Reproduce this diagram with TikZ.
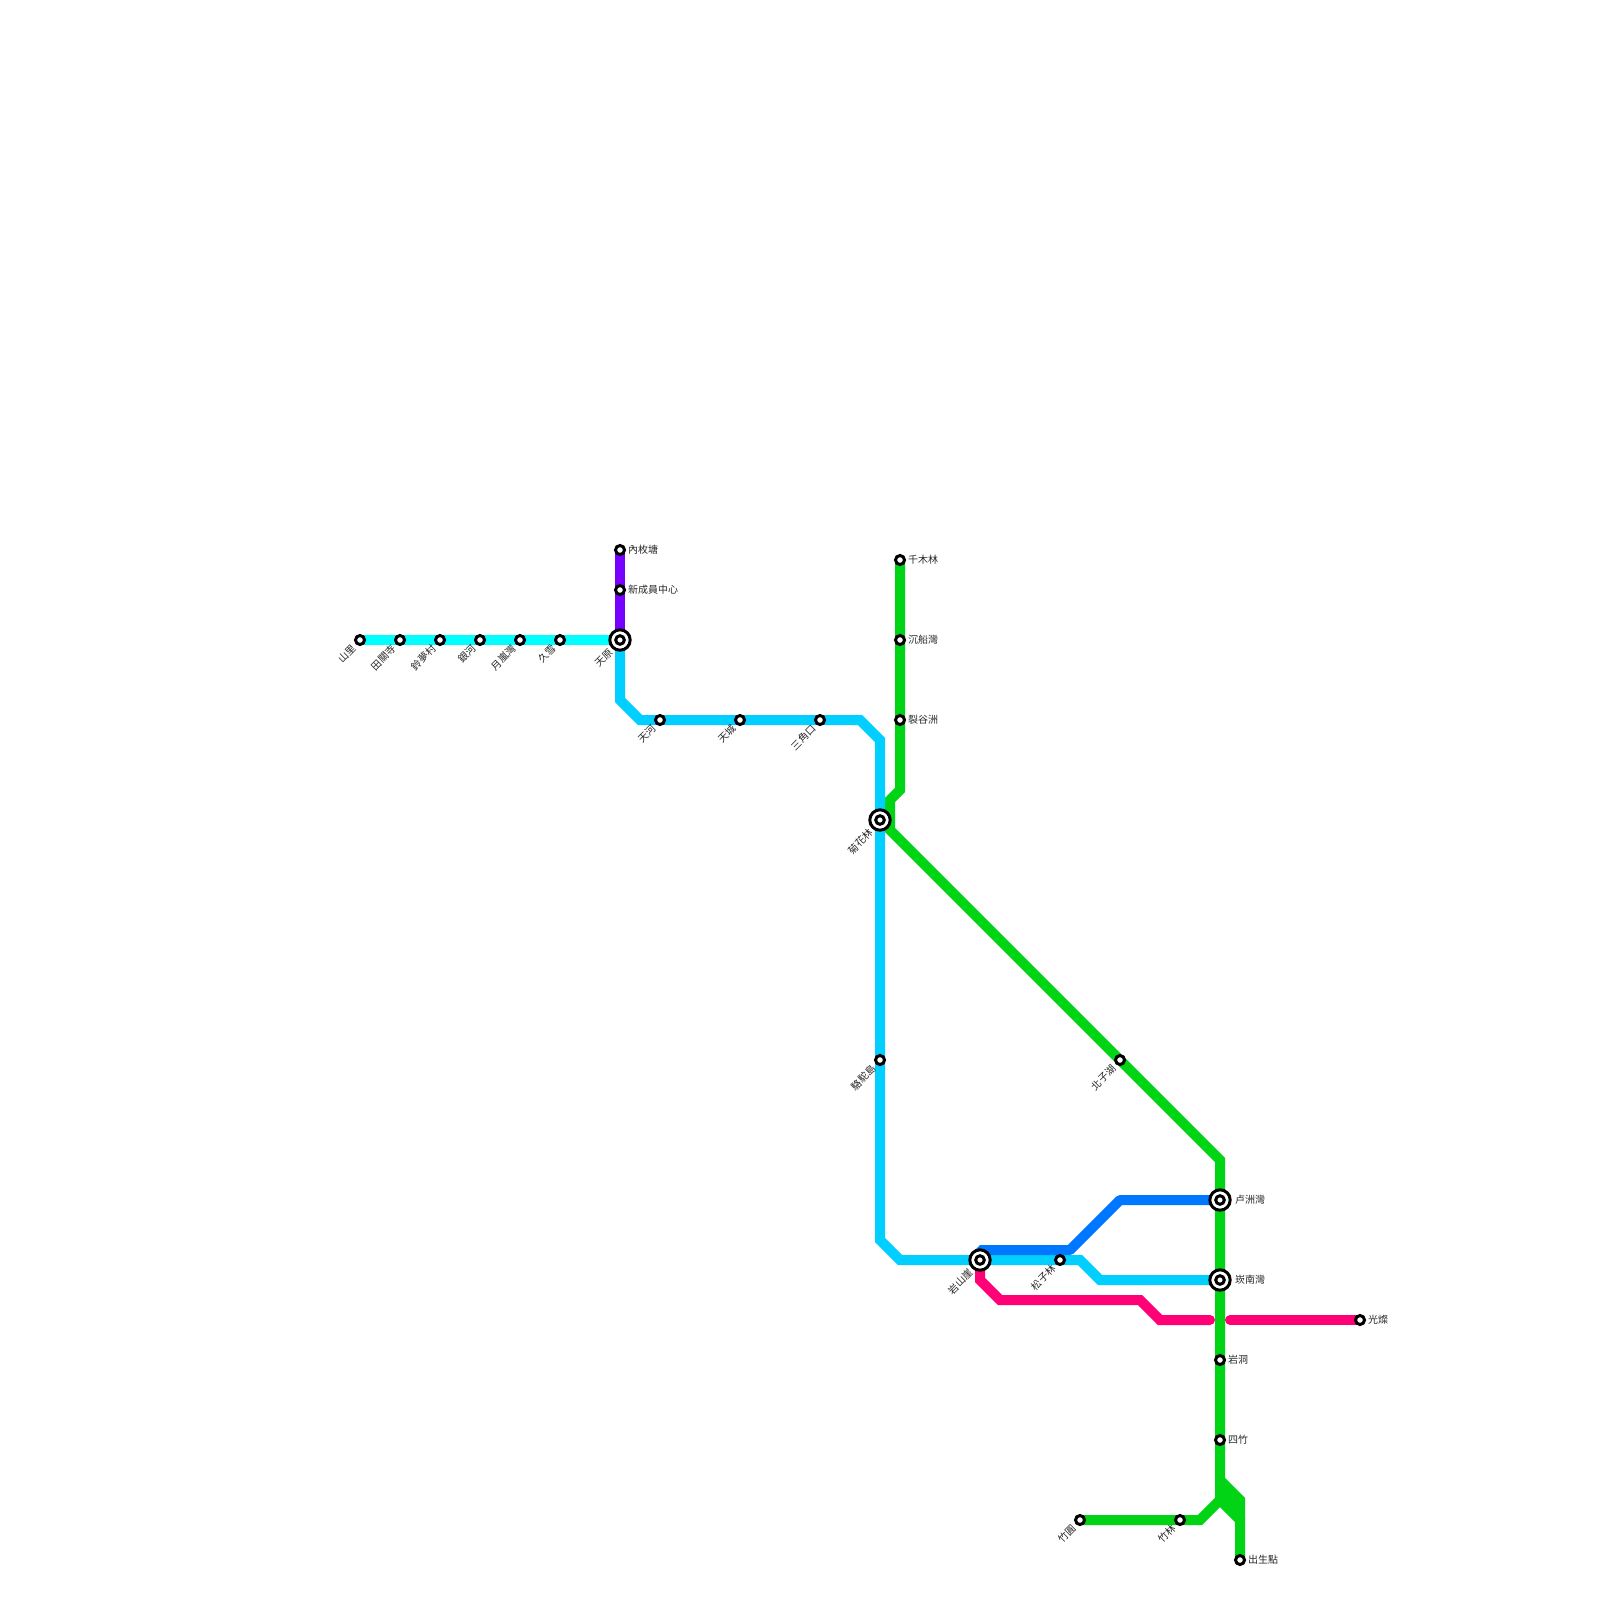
\documentclass[tikz,border=0pt]{standalone}
\usepackage{fontspec}
\newfontfamily\cjk{Noto Sans CJK TC}
\usetikzlibrary{backgrounds}
\definecolor{lineaqua}{HTML}{00FFFF}
\definecolor{linecyan}{HTML}{00CFFF}
\definecolor{linepurple}{HTML}{7700FF}
\definecolor{linegreen}{HTML}{00D414}
\definecolor{lineblue}{HTML}{0077FF}
\definecolor{linepink}{HTML}{FF0077}
\tikzset{
  stanchor/.style={circle,inner sep=0pt,outer sep=0pt,minimum size=1pt},
  ring/.style={draw=black,fill=white,line width=3pt},
  lbl/.style={font=\cjk\fontsize{10}{10}\selectfont,text=black!85,inner sep=0pt},
  rlbl/.style={lbl,anchor=west},
  dlbl/.style={lbl,anchor=east,rotate=45},
  route/.style={line width=10pt,line join=miter,line cap=butt}
}
\newcommand{\stS}[3]{\node[stanchor] (#1) at (#2,#3) {};\draw[ring] (#1.center) circle [radius=4.5pt];}
\newcommand{\stB}[3]{\node[stanchor] (#1) at (#2,#3) {};\draw[ring] (#1.center) circle [radius=10.2pt];\draw[ring] (#1.center) circle [radius=4.3pt];}
\begin{document}
\begin{tikzpicture}[x=1pt,y=-1pt]
\useasboundingbox (0,0) rectangle (1600,1600);
% stations
\stS{shanli}{360}{640}\stS{tianguan}{400}{640}\stS{lingmeng}{440}{640}\stS{yinhe}{480}{640}
\stS{yuelan}{520}{640}\stS{jiuxue}{560}{640}\stB{tianyuan}{620}{640}
\stS{neimei}{620}{550}\stS{xincheng}{620}{590}
\stS{tianhe}{660}{720}\stS{tiancheng}{740}{720}\stS{sanjiao}{820}{720}
\stB{juhua}{880}{820}\stS{luotuo}{880}{1060}\stB{yanshan}{980}{1260}\stS{songzi}{1060}{1260}
\stS{qianmu}{900}{560}\stS{chenchuan}{900}{640}\stS{liegu}{900}{720}\stS{beizi}{1120}{1060}
\stB{luzhou}{1220}{1200}\stB{kannan}{1220}{1280}\stS{yandong}{1220}{1360}\stS{sizhu}{1220}{1440}
\stS{zhuyuan}{1080}{1520}\stS{zhulin}{1180}{1520}\stS{chusheng}{1240}{1560}\stS{guangcan}{1360}{1320}
% bends
\coordinate (c1) at (620,700);\coordinate (c2) at (640,720);\coordinate (c3) at (860,720);
\coordinate (c4) at (880,740);\coordinate (c5) at (880,1240);\coordinate (c6) at (900,1260);
\coordinate (c7) at (1080,1260);\coordinate (c8) at (1100,1280);
\coordinate (g1) at (900,790);\coordinate (g2) at (890,800);\coordinate (g3) at (890,830);
\coordinate (g4) at (1220,1160);\coordinate (g5) at (1220,1500);\coordinate (g6) at (1200,1520);
\coordinate (g7) at (1220,1480);\coordinate (g8) at (1240,1500);\coordinate (g9) at (1240,1520);
\coordinate (g10) at (1220,1490);\coordinate (g11) at (1240,1510);
\coordinate (b1) at (980,1250);\coordinate (b2) at (1070,1250);\coordinate (b3) at (1120,1200);
\coordinate (p1) at (980,1280);\coordinate (p2) at (1000,1300);\coordinate (p3) at (1140,1300);
\coordinate (p4) at (1160,1320);\coordinate (p5) at (1210,1320);\coordinate (p6) at (1230,1320);
% routes
\begin{scope}[on background layer]
\draw[route,linepink] (yanshan.center) -- (p1) -- (p2) -- (p3) -- (p4) -- (p5);
\draw[route,linepink,line cap=round] (p4) -- (p5);
\draw[route,linepink,line cap=round] (p6) -- (guangcan.center);
\draw[route,lineaqua] (shanli.center) -- (tianguan.center) -- (lingmeng.center) -- (yinhe.center) -- (yuelan.center) -- (jiuxue.center) -- (tianyuan.center);
\draw[route,linepurple] (neimei.center) -- (xincheng.center) -- (tianyuan.center);
\draw[route,linegreen] (qianmu.center) -- (chenchuan.center) -- (liegu.center) -- (g1) -- (g2) -- (g3) -- (beizi.center) -- (g4) -- (luzhou.center) -- (kannan.center) -- (yandong.center) -- (sizhu.center) -- (g5) -- (g6) -- (zhulin.center) -- (zhuyuan.center);
\draw[route,linegreen] (g7) -- (g8) -- (g9);
\draw[route,linegreen] (g5) -- (g9) -- (chusheng.center);
\draw[route,linegreen] (g10) -- (g11);
\draw[route,linecyan] (tianyuan.center) -- (c1) -- (c2) -- (tianhe.center) -- (tiancheng.center) -- (sanjiao.center) -- (c3) -- (c4) -- (juhua.center) -- (luotuo.center) -- (c5) -- (c6) -- (yanshan.center) -- (songzi.center) -- (c7) -- (c8) -- (kannan.center);
\draw[route,lineblue,line join=bevel] (yanshan.center) -- (b1) -- (b2) -- (b3) -- (luzhou.center);
\end{scope}
% labels
\node[dlbl] (tshanli) at (354,647) {山里};
\node[dlbl] (ttianguan) at (394,647) {田關寺};
\node[dlbl] (tlingmeng) at (434,647) {鈴夢村};
\node[dlbl] (tyinhe) at (474,647) {銀河};
\node[dlbl] (tyuelan) at (514,647) {月嵐灣};
\node[dlbl] (tjiuxue) at (554,647) {久雪};
\node[dlbl] (ttianyuan) at (611,651) {天原};
\node[rlbl] (tneimei) at (628,550) {內枚塘};
\node[rlbl] (txincheng) at (628,590) {新成員中心};
\node[dlbl] (ttianhe) at (654,727) {天河};
\node[dlbl] (ttiancheng) at (734,727) {天城};
\node[dlbl] (tsanjiao) at (814,727) {三角口};
\node[dlbl] (tjuhua) at (871,831) {菊花林};
\node[dlbl] (tluotuo) at (874,1067) {駱駝島};
\node[dlbl] (tyanshan) at (971,1271) {岩山崖};
\node[dlbl] (tsongzi) at (1054,1267) {松子林};
\node[rlbl] (tqianmu) at (908,560) {千木林};
\node[rlbl] (tchenchuan) at (908,640) {沉船灣};
\node[rlbl] (tliegu) at (908,720) {裂谷洲};
\node[dlbl] (tbeizi) at (1114,1067) {北子湖};
\node[rlbl] (tluzhou) at (1235,1200) {卢洲灣};
\node[rlbl] (tkannan) at (1235,1280) {崁南灣};
\node[rlbl] (tyandong) at (1228,1360) {岩洞};
\node[rlbl] (tsizhu) at (1228,1440) {四竹};
\node[dlbl] (tzhuyuan) at (1074,1527) {竹圓};
\node[dlbl] (tzhulin) at (1174,1527) {竹林};
\node[rlbl] (tchusheng) at (1248,1560) {出生點};
\node[rlbl] (tguangcan) at (1368,1320) {光燦};
\end{tikzpicture}
\end{document}
